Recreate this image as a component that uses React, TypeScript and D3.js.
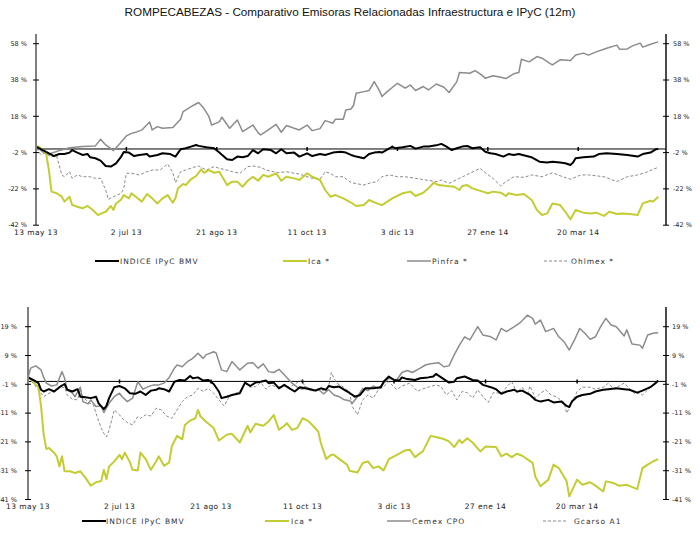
import React from "react";
import * as d3 from "d3";

type P = [number, number];

// trading-day index (0 = 13 may 13) and % change
const dateLabels = ["13 may 13", "2 jul 13", "21 ago 13", "11 oct 13", "3 dic 13", "27 ene 14", "20 mar 14"];
const dateTickDays = [0, 35, 70, 105, 140, 175, 210];

const topTicks = [58, 38, 18, -2, -22, -42];
const bottomTicks = [19, 9, -1, -11, -21, -31, -41];

const topNames = ["INDICE IPyC BMV", "Ica *", "Pinfra *", "Ohlmex *"];
const bottomNames = ["INDICE IPyC BMV", "Ica *", "Cemex CPO", "Gcarso A1"];

const ipycTop: P[] = [[0,1.3],[3,-0.9],[5,-2.4],[7,-3.9],[9,-2.8],[11,-2.8],[13,-2.0],[14,-0.6],[16,-2.0],[18,-3.3],[20,-2.8],[21,-4.6],[23,-5.1],[25,-6.4],[27,-9.4],[29,-9.7],[31,-7.9],[33,-4.2],[34,-1.7],[36,-2.0],[38,-3.9],[40,-3.3],[43,-2.8],[44,-4.2],[47,-3.3],[49,-2.4],[52,-2.8],[54,-4.2],[56,-0.2],[58,0.4],[60,1.3],[62,2.2],[63,1.7],[66,0.9],[69,0.4],[71,-2.0],[74,-5.7],[76,-6.1],[78,-4.2],[80,-4.6],[82,-3.9],[84,-0.6],[86,-2.4],[88,-0.2],[91,-0.6],[93,-2.4],[95,-0.2],[97,-2.4],[100,-2.0],[102,-4.2],[105,-2.4],[107,-3.9],[110,-2.8],[112,-3.3],[115,-2.0],[118,-1.5],[120,-2.0],[122,-3.3],[124,-4.2],[127,-5.1],[129,-2.8],[131,-2.0],[133,-1.7],[134,-2.0],[137,0.4],[138,1.3],[139,0.4],[142,0.9],[145,1.7],[147,0.2],[150,1.3],[152,1.3],[155,2.0],[157,2.8],[159,1.3],[161,-0.6],[163,0.4],[165,1.3],[167,1.7],[169,0.4],[172,0.9],[174,-1.5],[176,-2.4],[178,-2.8],[181,-4.2],[183,-2.8],[185,-3.3],[187,-2.8],[190,-3.9],[192,-4.6],[195,-7.0],[198,-7.5],[200,-7.0],[203,-7.5],[205,-7.9],[207,-8.8],[208,-7.5],[209,-5.1],[212,-4.6],[216,-4.2],[218,-2.8],[221,-2.4],[225,-2.8],[229,-3.3],[233,-4.2],[235,-2.8],[238,-2.0],[240,-0.2],[241,0]];

const icaTop: P[] = [[0,1.3],[1,1.3],[3,-0.9],[4,-3.3],[5,-11.6],[6,-23.5],[8,-24.4],[10,-26.3],[11,-29.0],[13,-26.3],[14,-30.9],[16,-31.8],[18,-32.7],[20,-31.4],[22,-33.6],[24,-36.4],[26,-35.1],[27,-34.6],[29,-31.4],[30,-33.6],[31,-30.0],[33,-27.8],[34,-25.4],[36,-27.2],[37,-24.4],[39,-26.7],[41,-29.0],[43,-24.8],[45,-27.2],[47,-30.0],[49,-27.2],[51,-25.4],[53,-29.6],[54,-27.2],[55,-21.7],[57,-19.3],[58,-19.9],[60,-16.7],[62,-14.9],[64,-11.2],[65,-13.1],[67,-11.6],[69,-13.1],[71,-12.5],[74,-19.9],[76,-18.0],[78,-18.0],[80,-20.8],[82,-17.5],[84,-15.3],[86,-17.5],[88,-14.3],[90,-15.3],[93,-13.4],[95,-17.5],[97,-15.3],[100,-16.2],[102,-17.1],[105,-13.4],[107,-15.3],[110,-17.1],[112,-22.6],[114,-26.3],[116,-25.4],[119,-27.2],[122,-29.5],[124,-31.4],[127,-30.9],[129,-28.1],[132,-30.0],[134,-30.9],[138,-27.2],[142,-24.4],[145,-23.5],[147,-25.9],[150,-24.1],[152,-21.7],[154,-18.6],[156,-19.9],[159,-20.4],[162,-20.8],[164,-22.6],[165,-20.4],[167,-19.9],[169,-21.7],[173,-23.5],[175,-24.4],[177,-23.5],[180,-24.1],[182,-25.9],[183,-24.4],[186,-25.4],[189,-24.8],[192,-28.1],[194,-33.6],[196,-36.4],[198,-35.5],[200,-30.0],[203,-30.9],[205,-34.6],[207,-38.8],[209,-33.6],[212,-35.1],[215,-35.5],[217,-35.1],[220,-36.9],[222,-34.6],[225,-35.8],[227,-35.5],[230,-35.8],[233,-36.4],[235,-30.0],[238,-28.5],[239,-29.0],[241,-26.3]];

const pinfraTop: P[] = [[0,1.3],[3,-2.0],[5,-2.8],[9,-0.9],[13,0.7],[18,1.3],[23,1.7],[25,5.3],[27,2.2],[30,-0.9],[32,2.2],[35,7.2],[37,8.6],[39,9.4],[41,10.5],[44,14.9],[45,10.5],[47,12.3],[49,11.4],[53,11.8],[56,16.4],[57,20.6],[59,22.4],[61,24.1],[63,25.6],[65,22.4],[67,17.8],[68,13.2],[71,14.9],[72,17.5],[75,11.4],[78,16.0],[80,9.6],[82,11.4],[84,13.2],[86,9.0],[87,7.7],[89,9.6],[93,13.6],[95,9.2],[97,12.9],[100,11.4],[102,10.5],[105,13.2],[107,10.1],[110,11.2],[112,15.6],[115,14.2],[116,16.4],[119,16.4],[120,21.5],[122,22.0],[123,24.1],[124,30.7],[127,31.6],[129,32.2],[131,37.1],[133,32.2],[134,28.9],[136,31.6],[140,36.2],[143,33.5],[145,35.3],[147,32.2],[150,34.4],[152,32.5],[155,35.8],[158,34.0],[160,31.1],[163,37.1],[164,42.1],[168,41.7],[170,43.2],[172,41.4],[174,39.0],[177,40.3],[180,39.5],[182,38.8],[185,41.4],[187,42.1],[188,49.4],[191,48.0],[194,50.9],[196,50.0],[199,47.2],[200,46.3],[203,49.1],[207,48.7],[209,51.8],[212,52.8],[214,51.7],[217,53.5],[221,55.5],[225,57.2],[226,55.0],[229,55.1],[231,56.8],[234,58.3],[235,56.1],[238,57.7],[241,59.0]];

const ohlmexTop: P[] = [[0,0.4],[2,-3.3],[3,-2.4],[6,-4.2],[8,-3.9],[10,-14.3],[11,-15.3],[13,-12.5],[14,-16.2],[16,-14.3],[18,-15.3],[21,-15.3],[23,-16.2],[25,-16.2],[27,-22.6],[28,-27.8],[30,-26.3],[33,-24.4],[34,-21.7],[35,-13.4],[37,-13.4],[40,-14.3],[43,-12.5],[45,-11.6],[48,-11.6],[51,-8.3],[53,-13.1],[54,-18.6],[56,-12.5],[58,-11.6],[61,-10.1],[63,-9.4],[66,-11.6],[69,-9.7],[71,-10.7],[74,-11.6],[76,-12.5],[79,-13.4],[82,-9.7],[84,-9.4],[87,-10.1],[89,-11.6],[92,-12.5],[94,-13.1],[97,-12.5],[100,-13.4],[102,-13.8],[105,-15.3],[107,-16.2],[110,-16.7],[112,-12.5],[114,-13.4],[116,-15.3],[119,-15.3],[122,-18.5],[127,-19.9],[129,-18.9],[132,-18.0],[134,-15.3],[137,-14.3],[140,-15.3],[143,-15.3],[147,-16.2],[151,-17.1],[155,-18.0],[157,-17.1],[160,-18.9],[164,-16.2],[168,-13.4],[172,-10.7],[174,-13.1],[177,-16.2],[180,-20.4],[182,-18.0],[185,-15.3],[189,-15.6],[192,-14.3],[196,-15.3],[200,-13.1],[204,-15.3],[207,-16.7],[211,-14.3],[214,-14.3],[220,-15.3],[225,-18.0],[229,-15.3],[233,-14.3],[236,-13.1],[239,-11.2],[241,-10.1]];

const ipycBottom: P[] = [[0,1.4],[2,0.5],[4,-0.6],[5,-2.9],[6,-3.5],[8,-2.7],[10,-3.5],[12,-2.0],[14,-0.9],[15,-2.9],[17,-3.5],[19,-2.7],[20,-5.3],[22,-5.5],[24,-5.8],[26,-5.3],[27,-7.6],[29,-9.6],[30,-8.5],[31,-5.8],[33,-2.0],[35,-1.6],[37,-2.4],[39,-4.1],[41,-4.3],[43,-3.5],[45,-4.7],[47,-3.2],[49,-2.9],[50,-2.4],[52,-2.7],[54,-3.5],[56,-0.1],[58,0.5],[60,0.3],[62,1.9],[63,1.1],[65,1.4],[67,0.3],[69,0.5],[71,-0.9],[73,-3.5],[74,-5.8],[76,-5.3],[78,-4.7],[81,-4.1],[83,-0.4],[85,-1.6],[87,-0.4],[89,-0.1],[91,0.3],[92,-0.6],[94,-0.4],[96,-2.4],[98,-1.2],[100,-2.4],[102,-3.5],[104,-2.0],[106,-2.4],[108,-2.7],[110,-3.2],[112,-2.4],[114,-2.9],[115,-1.6],[117,-2.0],[119,-1.8],[121,-2.9],[123,-4.0],[125,-5.3],[127,-4.7],[129,-2.4],[132,-2.4],[135,-2.0],[136,-0.1],[138,1.7],[140,0.5],[142,0.3],[143,1.4],[145,0.8],[148,0.5],[150,1.1],[153,1.4],[155,1.7],[156,2.6],[159,0.8],[161,-0.4],[163,-0.1],[164,1.1],[167,1.7],[170,0.5],[172,0.3],[174,-1.2],[177,-2.0],[179,-2.7],[181,-4.3],[183,-3.5],[186,-2.9],[187,-3.5],[189,-3.2],[192,-4.7],[194,-6.4],[196,-7.0],[199,-6.4],[201,-7.3],[204,-7.0],[206,-8.5],[207,-8.9],[208,-7.0],[210,-5.3],[212,-4.7],[215,-4.3],[217,-3.5],[220,-2.9],[222,-2.7],[225,-2.4],[228,-2.7],[230,-2.9],[233,-3.9],[235,-3.2],[238,-2.0],[240,-0.6],[241,0.3]];

const icaBottom: P[] = [[0,1.7],[2,-0.1],[3,-1.2],[4,-1.8],[5,-8.7],[6,-18.5],[7,-23.5],[8,-23.1],[10,-24.8],[11,-26.0],[12,-29.5],[13,-26.0],[14,-31.2],[16,-31.2],[18,-31.8],[20,-31.2],[22,-33.5],[24,-36.2],[26,-35.0],[28,-34.6],[29,-30.7],[30,-33.9],[31,-29.5],[33,-27.8],[35,-25.5],[36,-27.0],[37,-24.7],[39,-28.1],[40,-30.7],[42,-30.9],[43,-24.7],[45,-27.0],[47,-30.7],[49,-27.8],[50,-26.0],[52,-29.3],[54,-28.1],[55,-22.5],[57,-18.9],[59,-20.1],[60,-15.1],[62,-13.6],[64,-12.8],[65,-9.9],[66,-12.2],[68,-13.9],[71,-16.2],[73,-20.5],[76,-18.5],[78,-18.2],[81,-21.2],[84,-15.4],[85,-17.7],[87,-14.7],[90,-15.4],[92,-13.9],[94,-11.7],[96,-16.8],[98,-15.4],[99,-14.5],[101,-16.8],[103,-16.2],[105,-12.8],[107,-13.6],[109,-15.4],[111,-17.4],[112,-21.4],[114,-26.9],[116,-25.5],[117,-25.5],[119,-26.9],[122,-28.9],[123,-31.0],[126,-31.6],[128,-28.3],[130,-27.8],[132,-30.1],[134,-29.5],[136,-30.9],[138,-27.0],[140,-26.0],[142,-25.1],[144,-24.0],[146,-23.7],[148,-26.3],[150,-24.9],[151,-24.3],[154,-18.9],[156,-19.3],[159,-20.0],[161,-20.8],[163,-22.8],[165,-20.3],[166,-21.4],[168,-19.7],[170,-21.2],[173,-24.3],[175,-22.6],[179,-22.8],[181,-26.0],[183,-25.1],[185,-26.3],[187,-25.1],[189,-25.8],[193,-28.3],[194,-33.0],[196,-36.4],[199,-34.1],[201,-28.9],[203,-30.1],[206,-34.7],[207,-39.9],[210,-34.1],[212,-35.9],[215,-35.0],[217,-36.2],[220,-38.2],[221,-34.7],[224,-35.3],[226,-36.2],[229,-35.9],[233,-37.4],[235,-30.1],[237,-28.9],[239,-27.8],[241,-27.0]];

const cemexBottom: P[] = [[0,1.4],[1,4.6],[3,5.4],[5,4.0],[6,1.4],[7,-0.6],[9,-1.6],[11,-1.2],[13,3.4],[14,1.1],[15,-2.9],[17,-4.1],[18,-5.3],[20,-2.0],[21,-7.0],[23,-7.8],[24,-6.4],[26,-8.7],[28,-8.5],[29,-10.8],[31,-7.6],[33,-5.3],[35,-4.1],[36,-5.3],[38,-7.0],[40,-5.8],[42,-0.1],[44,-2.7],[46,-1.8],[48,-1.2],[50,-1.2],[52,-0.6],[54,1.4],[56,4.6],[57,5.7],[59,5.1],[61,6.9],[63,8.0],[65,9.8],[67,8.0],[68,9.2],[71,10.3],[72,9.8],[74,4.0],[76,3.4],[78,6.9],[81,4.0],[84,6.3],[86,6.5],[88,4.6],[90,6.1],[92,3.4],[94,3.1],[96,4.2],[98,2.3],[101,-0.6],[103,-2.0],[105,-2.7],[106,-1.8],[109,-3.2],[111,-2.7],[113,-4.3],[115,-2.9],[117,-4.7],[119,-5.3],[121,-6.4],[123,-6.7],[124,-7.6],[126,-5.3],[128,-2.4],[130,-3.2],[132,-1.6],[134,-2.4],[136,-0.6],[138,1.1],[141,0.5],[143,3.1],[145,3.8],[147,3.1],[150,4.6],[152,5.7],[154,6.1],[157,6.5],[159,5.1],[161,5.4],[163,9.2],[165,12.6],[167,15.5],[169,14.4],[172,19.0],[174,16.1],[177,15.5],[179,14.4],[181,18.4],[183,17.3],[186,19.0],[188,20.2],[191,23.0],[193,21.9],[194,19.9],[196,21.3],[198,17.3],[201,18.4],[203,15.5],[205,13.8],[207,10.9],[209,14.4],[211,18.4],[213,16.7],[215,14.6],[217,15.5],[219,19.0],[221,21.9],[223,19.6],[225,19.0],[228,15.8],[229,17.9],[231,13.0],[234,12.6],[235,11.5],[237,16.1],[239,16.7],[241,16.9]];

const gcarsoBottom: P[] = [[0,1.4],[2,-0.6],[4,-2.9],[6,-5.3],[8,-4.1],[10,-3.5],[12,-2.4],[14,-2.0],[15,-4.7],[17,-6.2],[19,-6.4],[20,-2.7],[21,-5.3],[23,-7.3],[25,-8.1],[26,-11.0],[28,-16.2],[29,-18.0],[30,-19.3],[31,-17.0],[33,-9.9],[35,-11.6],[36,-12.8],[38,-14.3],[40,-15.1],[42,-12.2],[43,-12.8],[45,-11.6],[47,-12.0],[49,-9.3],[51,-9.9],[53,-12.0],[55,-12.8],[57,-9.9],[59,-7.0],[61,-5.3],[63,-4.7],[65,-2.4],[67,-3.5],[69,-2.4],[71,-4.1],[73,-6.4],[75,-8.5],[77,-5.3],[78,-4.7],[81,-3.5],[83,-0.6],[85,-2.0],[87,-1.8],[89,-0.4],[91,-2.7],[93,-1.2],[95,-2.0],[98,-1.6],[100,-2.0],[103,-0.4],[105,0.5],[106,-2.4],[109,-3.5],[111,-2.4],[113,-3.2],[115,-1.8],[116,3.1],[118,-0.6],[120,-1.6],[122,-2.9],[123,-4.0],[124,-8.7],[126,-11.6],[128,-6.4],[130,-4.7],[132,-5.8],[134,-2.9],[136,-1.8],[138,-0.1],[141,-2.9],[143,-1.6],[146,-0.6],[149,-3.5],[150,-2.9],[153,-2.0],[156,-1.2],[158,-1.8],[160,-4.7],[162,-3.2],[164,-6.4],[166,-3.5],[168,-3.9],[170,-5.8],[172,-2.9],[174,-5.3],[176,-7.3],[178,-3.9],[181,-4.1],[183,-2.0],[185,-0.1],[187,-3.9],[189,-2.0],[191,-4.7],[192,-1.6],[194,-5.8],[196,-4.1],[198,-2.9],[200,-4.7],[202,-5.3],[205,-7.3],[206,-11.0],[208,-7.6],[210,-3.5],[212,-2.0],[215,-2.0],[217,-2.7],[220,-2.0],[222,-0.6],[224,-2.7],[226,-1.6],[228,-0.6],[230,-2.4],[232,-4.3],[233,-3.9],[235,-4.7],[237,-2.9],[239,-1.2],[241,-0.4]];

const YELLOW = "#c4cc34";
const BLACK = "#000000";
const GRAY = "#8c8c8c";
const DGRAY = "#8a8a8a";

interface Style { color: string; width: number; dash?: string }
const styles: Style[] = [
  { color: BLACK, width: 2 },
  { color: YELLOW, width: 2 },
  { color: GRAY, width: 1.5 },
  { color: DGRAY, width: 1, dash: "3,2" },
];

interface PanelCfg {
  series: P[][];
  names: string[];
  ticks: number[];
  x0: number; x1: number;
  yDom: [number, number]; yRng: [number, number];
  axisTop: number;
  leftLabelX: number;
  rightLabelX: number;
  xLabelY: number;
  legendY: number;
  legendX: number[];
  legendTextX: number[];
}

const LABEL_FONT = "'DejaVu Sans', Verdana, sans-serif";

function Panel({ cfg }: { cfg: PanelCfg }) {
  const x = d3.scaleLinear().domain([0, 244]).range([cfg.x0, cfg.x1]);
  const y = d3.scaleLinear().domain(cfg.yDom).range(cfg.yRng);
  const line = d3.line<P>().x((d) => x(d[0])).y((d) => y(d[1]));
  const y0 = y(0);
  const bottom = cfg.yRng[0];
  const drawOrder = [2, 3, 1, 0];
  return (
    <g>
      <line x1={cfg.x0} x2={cfg.x1} y1={y0} y2={y0} stroke="#000" strokeWidth={1} />
      {dateTickDays.slice(1).map((d) => (
        <line key={d} x1={x(d)} x2={x(d)} y1={y0 - 2} y2={y0 + 2} stroke="#000" strokeWidth={1.5} />
      ))}
      {drawOrder.map((i) => (
        <path key={i} d={line(cfg.series[i]) || ""} fill="none" stroke={styles[i].color}
          strokeWidth={styles[i].width} strokeDasharray={styles[i].dash} strokeLinejoin="round" />
      ))}
      <line x1={cfg.x0} x2={cfg.x0} y1={cfg.axisTop} y2={bottom} stroke="#808080" strokeWidth={2} />
      <line x1={cfg.x1} x2={cfg.x1} y1={cfg.axisTop} y2={bottom} stroke="#111" strokeWidth={1.5} />
      {cfg.ticks.map((t) => (
        <g key={t}>
          <line x1={cfg.x0 - 3} x2={cfg.x0 + 3} y1={y(t)} y2={y(t)} stroke="#000" strokeWidth={1} />
          <line x1={cfg.x1 - 3} x2={cfg.x1 + 3} y1={y(t)} y2={y(t)} stroke="#000" strokeWidth={1} />
          <text x={cfg.leftLabelX} y={y(t)} dy="0.35em" textAnchor="end" fontSize={6.5}
            fontFamily={LABEL_FONT} fill="#222">{`${t} %`}</text>
          <text x={cfg.rightLabelX} y={y(t)} dy="0.35em" textAnchor="start" fontSize={6.5}
            fontFamily={LABEL_FONT} fill="#222">{`${t} %`}</text>
        </g>
      ))}
      {dateTickDays.map((d, i) => (
        <text key={d} x={x(d)} y={cfg.xLabelY} textAnchor="middle" fontSize={7.5}
          fontFamily={LABEL_FONT} fill="#222" letterSpacing={0.4}>{dateLabels[i]}</text>
      ))}
      {cfg.names.map((n, i) => (
        <g key={n}>
          <line x1={cfg.legendX[i]} x2={cfg.legendX[i] + 24} y1={cfg.legendY} y2={cfg.legendY}
            stroke={styles[i].color} strokeWidth={styles[i].width} strokeDasharray={styles[i].dash} />
          <text x={cfg.legendTextX[i]} y={cfg.legendY} dy="0.35em" fontSize={7.5}
            fontFamily={LABEL_FONT} fill="#333" letterSpacing={1}>{n}</text>
        </g>
      ))}
    </g>
  );
}

export default function App() {
  const top: PanelCfg = {
    series: [ipycTop, icaTop, pinfraTop, ohlmexTop],
    names: topNames,
    ticks: topTicks,
    x0: 36, x1: 666,
    yDom: [-42, 58], yRng: [225.2, 43.7],
    axisTop: 34,
    leftLabelX: 27,
    rightLabelX: 673,
    xLabelY: 235,
    legendY: 261,
    legendX: [95, 283, 407, 544],
    legendTextX: [120, 308, 432, 571],
  };
  const bottom: PanelCfg = {
    series: [ipycBottom, icaBottom, cemexBottom, gcarsoBottom],
    names: bottomNames,
    ticks: bottomTicks,
    x0: 28, x1: 666,
    yDom: [-41, 19], yRng: [499.5, 326.7],
    axisTop: 307,
    leftLabelX: 17,
    rightLabelX: 672,
    xLabelY: 509,
    legendY: 521,
    legendX: [82, 265, 387, 543],
    legendTextX: [106, 291, 412, 574],
  };
  return (
    <svg width={700} height={539} style={{ position: "absolute", left: 0, top: 0, background: "#fff" }}>
      <rect x={0} y={0} width={700} height={539} fill="#fff" />
      <text x={350} y={16} textAnchor="middle" fontSize={11.7}
        fontFamily="'Liberation Sans', Arial, sans-serif" fill="#111">
        ROMPECABEZAS - Comparativo  Emisoras Relacionadas Infraestructura e IPyC (12m)
      </text>
      <Panel cfg={top} />
      <Panel cfg={bottom} />
    </svg>
  );
}
